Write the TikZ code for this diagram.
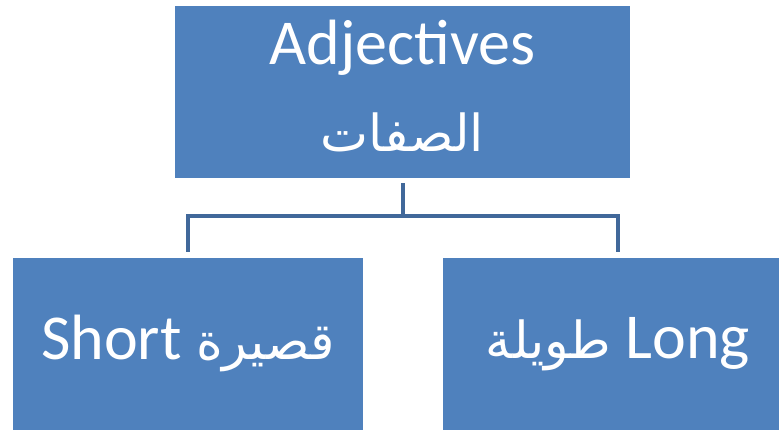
\documentclass[tikz,border=0pt]{standalone}
\usepackage{fontspec}
\setmainfont{Carlito}
\newfontfamily\arabicfont[Script=Arabic]{DejaVu Sans}
\TeXXeTstate=1
\usetikzlibrary{positioning}
\definecolor{boxblue}{HTML}{4F81BD}
\definecolor{linkblue}{HTML}{41689A}
\newcommand{\arab}[1]{{\arabicfont\fontsize{51}{54}\selectfont\beginR #1\endR}}
\tikzset{
  catbox/.style={ % blue box of the chart
    rectangle, fill=boxblue, text=white, inner sep=0pt,
    minimum width=350pt, minimum height=172pt, align=center,
    font=\fontsize{64}{87}\selectfont
  },
  link/.style={ % elbow connector
    draw=linkblue, line width=4pt
  }
}

\begin{document}
\begin{tikzpicture}[x=1pt,y=-1pt]
  \useasboundingbox (0,0) rectangle (779,430);
  \clip (0,0) rectangle (779,430);

  \node[catbox, minimum width=455pt] (adj) at (402.5,92) {};
  \node[catbox, minimum size=0pt, fill=none] (adjtext) at (402.5,86)
    {Adjectives\\\arab{الصفات}};
  \node[catbox] (short) at (188,344) {Short \arab{قصيرة}};
  \node[catbox] (long) at (618,344) {\arab{طويلة} Long};

  \coordinate[below=38pt of adj.south] (fork);
  \draw[link, shorten <=5pt] (adj.south) -- (fork);
  \draw[link, shorten >=6pt] (fork) -| (short.north);
  \draw[link, shorten >=6pt] (fork) -| (long.north);
\end{tikzpicture}
\end{document}
